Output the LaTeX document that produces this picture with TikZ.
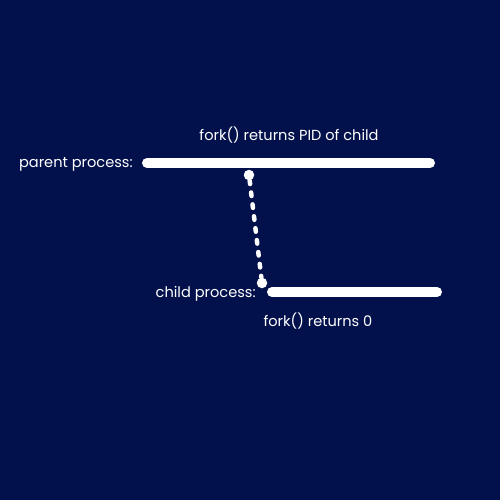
\documentclass[tikz,border=0pt]{standalone}
\usepackage{fontspec}
\setmainfont{Poppins}
\usetikzlibrary{positioning}
\definecolor{navy}{HTML}{02114B}
\tikzset{
  timeline/.style={white, line width=0.2cm, line cap=round},
  forkdot/.style={circle, fill=white, inner sep=0pt, minimum size=0.21cm},
  forklink/.style={white, line width=0.09cm, line cap=round, dash pattern=on 0.07cm off 0.17cm},
  lbl/.style={text=white, font=\fontsize{8.3}{10}\selectfont, inner sep=0pt}
}
\begin{document}
\begin{tikzpicture}[x=0.02cm, y=-0.02cm]
  \fill[navy] (0,0) rectangle (500,500);
  \useasboundingbox (0,0) rectangle (500,500);

  % parent
  \coordinate (pstart) at (147,163);
  \coordinate (pend) at (430,163);
  \draw[timeline] (pstart) -- (pend);
  \node[lbl, anchor=east] (plabel) at (133,164) {parent process:};
  \node[lbl] (pret) at (289,135) {fork() returns PID of child};

  % fork
  \node[forkdot] (fdot) at (249,175) {};
  \node[forkdot] (cdot) at (262,283) {};
  \draw[forklink] (fdot) -- (cdot);

  % child
  \coordinate (cstart) at (272,292);
  \coordinate (cend) at (437,292);
  \draw[timeline] (cstart) -- (cend);
  \node[lbl, anchor=east] (clabel) at (256,294) {child process:};
  \node[lbl] (cret) at (318,321) {fork() returns 0};
\end{tikzpicture}
\end{document}
